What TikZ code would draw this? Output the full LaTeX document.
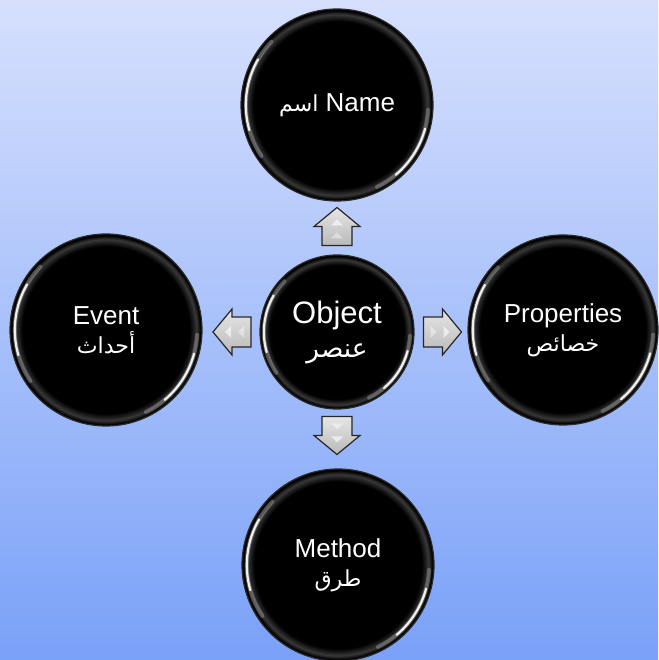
\documentclass[tikz,border=0pt]{standalone}
\usepackage{fontspec}
\setmainfont{Liberation Sans}
\newfontfamily\arabicfont[Script=Arabic,Scale=0.85]{DejaVu Sans}
\TeXXeTstate=1
\usetikzlibrary{positioning}

\definecolor{bgtop}{HTML}{D6E0FD}
\definecolor{bgbottom}{HTML}{7AA1F8}
\definecolor{rim}{HTML}{2B2B2B}
\pgfdeclareradialshading{bubble}{\pgfpoint{0bp}{0bp}}{color(0bp)=(black); color(21.8bp)=(black); color(23.6bp)=(black!78!white); color(24.6bp)=(black); color(25bp)=(black); color(50bp)=(black)}
\newcommand{\arab}[1]{{\arabicfont\beginR#1\endR}}

\tikzset{
  gloss/.style={white, line cap=round},
  ball/.style={circle, minimum size=2*#1, inner sep=0pt, shade, shading=bubble,
    draw=rim, line width=1.2pt, text=white, align=center,
    font=\fontsize{26}{29}\selectfont,
    path picture={
      % left highlight
      \draw[gloss, line width=4pt, opacity=.25] ([shift={(136:0.95*#1)}]path picture bounding box.center)
        arc[start angle=136, end angle=214, radius=0.95*#1];
      \draw[gloss, line width=2.2pt, opacity=.9] ([shift={(150:0.95*#1)}]path picture bounding box.center)
        arc[start angle=150, end angle=196, radius=0.95*#1];
      % right highlight
      \draw[gloss, line width=4pt, opacity=.25] ([shift={(-3:0.95*#1)}]path picture bounding box.center)
        arc[start angle=-3, end angle=-64, radius=0.95*#1];
      \draw[gloss, line width=2.2pt, opacity=.9] ([shift={(-15:0.95*#1)}]path picture bounding box.center)
        arc[start angle=-15, end angle=-50, radius=0.95*#1];
    }},
  blockarrow/.pic={
    \draw[draw=black!85, line width=1.2pt, top color=gray!20, bottom color=gray!55]
      (-19,-15) -- (0,-15) -- (0,-23) -- (19,0) -- (0,23) -- (0,15) -- (-19,15) -- cycle;
    \fill[white, opacity=.6] (1,-6) -- (7,0) -- (1,6) -- cycle;
    \fill[white, opacity=.4] (-12,-6) -- (-6,0) -- (-12,6) -- cycle;
  }
}

\begin{document}
\begin{tikzpicture}[x=1pt, y=1pt]
  % Background
  \useasboundingbox (0,0) rectangle (658,660);
  \shade[top color=bgtop, bottom color=bgbottom] (0,0) rectangle (658,660);

  % Centre
  \node[ball=77, font=\fontsize{31}{34}\selectfont] (obj) at (337,328) {Object\\\arab{عنصر}};

  % Outer circles
  \node[ball=96] (name) at (337,555) {\arab{اسم} Name};
  \node[ball=96] (event) at (106,330) {Event\\\arab{أحداث}};
  \node[ball=95] (props) at (563,330) {Properties\\\arab{خصائص}};
  \node[ball=96] (method) at (338,95) {Method\\\arab{طرق}};

  % Block arrows
  \pic[rotate=90] (aup) at (337,433.5) {blockarrow};
  \pic[rotate=-90] (adown) at (337,224.5) {blockarrow};
  \pic[rotate=180] (aleft) at (232,328) {blockarrow};
  \pic (aright) at (442.5,328) {blockarrow};
\end{tikzpicture}
\end{document}
